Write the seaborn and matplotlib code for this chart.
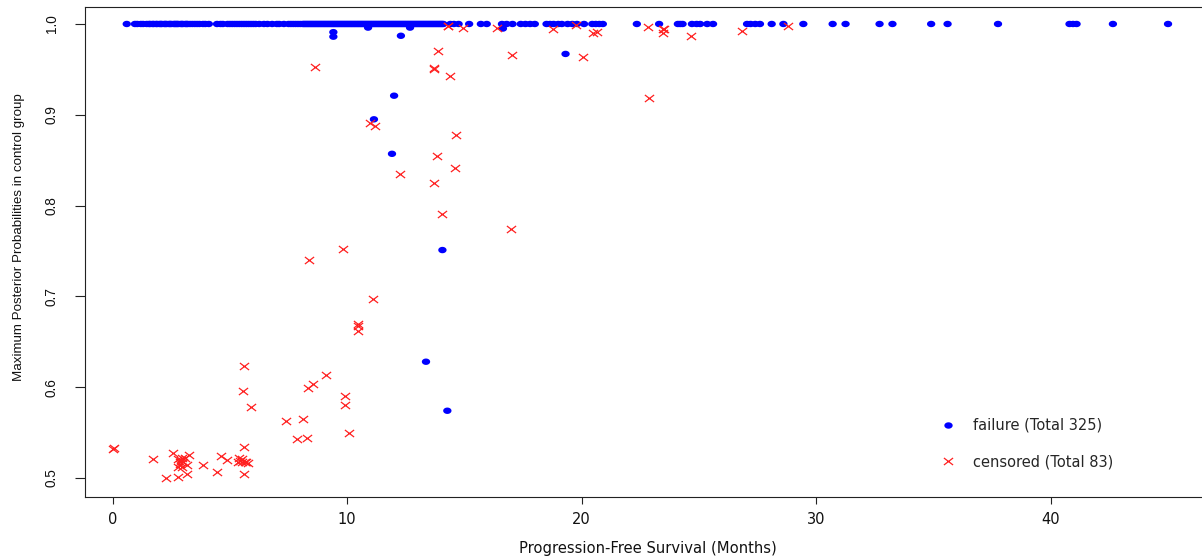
import matplotlib
matplotlib.use("Agg")
import matplotlib.pyplot as plt
import numpy as np
import pandas as pd
import seaborn as sns
from matplotlib.path import Path
from matplotlib.lines import Line2D

# failures whose max posterior probability is (essentially) 1.0 -- PFS in months
fail_top_months = [
    0.6, 0.95, 1.05, 1.2, 1.3, 1.45, 1.55, 1.6, 1.7, 1.75, 1.85, 1.9, 2.0, 2.05,
    2.1, 2.2, 2.25, 2.3, 2.4, 2.45, 2.5, 2.6, 2.65, 2.7, 2.75, 2.8, 2.9, 2.95,
    3.0, 3.1, 3.15, 3.2, 3.3, 3.4, 3.5, 3.6, 3.7, 3.85, 3.95, 4.1,
    4.45, 4.6, 4.7, 4.9, 5.0, 5.1, 5.2, 5.3, 5.4, 5.5, 5.6, 5.7, 5.8, 5.9,
    6.0, 6.1, 6.25, 6.45, 6.6, 6.8, 7.0, 7.1, 7.3, 7.5, 7.6, 7.7, 7.8, 7.9, 8.0,
    8.10, 8.15, 8.20, 8.25, 8.30, 8.35, 8.40, 8.45, 8.50, 8.55, 8.60, 8.65,
    8.70, 8.75, 8.80, 8.85, 8.90, 8.95, 9.00, 9.05, 9.10, 9.15, 9.20, 9.25,
    9.30, 9.35, 9.40, 9.45, 9.50, 9.55, 9.60, 9.65, 9.70, 9.75, 9.80, 9.85,
    9.90, 9.95, 10.00, 10.05, 10.10, 10.15, 10.20, 10.25, 10.30, 10.35, 10.40,
    10.45, 10.50, 10.55, 10.60, 10.65, 10.70, 10.75, 10.80, 10.85, 10.90,
    10.95, 11.00, 11.05, 11.10, 11.15, 11.20, 11.25, 11.30, 11.35, 11.40,
    11.45, 11.50, 11.55, 11.60, 11.65, 11.70, 11.75, 11.80, 11.85, 11.90,
    11.95, 12.00, 12.05, 12.10, 12.15, 12.20, 12.25, 12.30, 12.35, 12.40,
    12.45, 12.50, 12.55, 12.60, 12.65, 12.70, 12.75, 12.80, 12.85, 12.90,
    12.95, 13.00, 13.05, 13.10, 13.15, 13.20, 13.25, 13.30, 13.35, 13.40,
    13.45, 13.50, 13.55, 13.60, 13.65, 13.70, 13.75, 13.80, 13.85, 13.90,
    13.95, 14.00, 14.05, 14.10,
    14.4, 14.55, 14.75, 15.2, 15.7, 15.95, 16.6, 16.8, 17.05, 17.4, 17.6, 17.8,
    18.0, 18.5, 18.65, 18.8, 19.0, 19.15, 19.4, 19.6, 19.8, 20.1, 20.45, 20.6,
    20.75, 20.9,
    22.35, 23.3, 24.1, 24.2, 24.3, 24.7, 24.9, 25.05, 25.35, 25.6, 27.05, 27.2,
    27.4, 27.6, 28.1, 28.6, 29.45, 30.7, 31.25, 32.7, 33.25, 34.9, 35.6, 37.75,
    40.8, 40.95, 41.1, 42.65, 45.0,
]

# failures with a visibly lower probability
fail_low_months = [9.41, 9.41, 12.29, 12.68, 16.64, 10.89, 12.0, 11.14, 11.91,
                   19.31, 14.06, 13.36, 14.27]
fail_low_prob = [0.991, 0.986, 0.987, 0.996, 0.995, 0.996, 0.921, 0.895, 0.857,
                 0.967, 0.751, 0.628, 0.574]

# censored patients
cens_months = [
    14.31, 14.92, 16.37, 18.78, 19.76, 20.48, 20.65, 22.83, 23.48, 23.48, 24.65,
    26.84, 28.80, 13.86, 17.01, 20.07, 8.63, 13.71, 14.38, 22.88, 10.97, 11.19,
    14.63, 13.84, 14.60, 12.24, 13.71, 14.06, 17.00, 9.81, 8.38, 11.11, 10.47,
    10.47, 5.60, 9.08, 8.55, 8.33, 5.57, 9.92, 9.92, 5.90, 7.37, 8.13, 10.08,
    7.85, 8.27, 5.61, 0.03, 0.05, 1.71, 2.58, 2.80, 2.94, 3.08, 3.27, 2.87, 3.16,
    2.94, 2.80, 3.86, 4.61, 4.89, 4.43, 2.27, 2.77, 3.18, 5.40, 5.50, 5.36, 5.64,
    5.78, 5.60, 2.90, 3.00, 2.85, 5.50, 5.45, 5.70, 14.30, 23.50, 10.47, 13.70,
]
cens_prob = [
    0.998, 0.996, 0.996, 0.994, 0.999, 0.990, 0.991, 0.997, 0.995, 0.990, 0.987,
    0.992, 0.998, 0.970, 0.966, 0.964, 0.953, 0.950, 0.943, 0.918, 0.891, 0.888,
    0.878, 0.855, 0.841, 0.835, 0.825, 0.791, 0.774, 0.752, 0.740, 0.697, 0.669,
    0.662, 0.623, 0.613, 0.604, 0.599, 0.596, 0.590, 0.580, 0.578, 0.563, 0.565,
    0.549, 0.543, 0.544, 0.534, 0.532, 0.533, 0.521, 0.527, 0.521, 0.522, 0.522,
    0.525, 0.518, 0.514, 0.512, 0.512, 0.514, 0.524, 0.520, 0.507, 0.500, 0.501,
    0.504, 0.522, 0.518, 0.517, 0.517, 0.516, 0.504, 0.520, 0.517, 0.515, 0.521,
    0.519, 0.518, 0.998, 0.994, 0.667, 0.951,
]

fail_df = pd.DataFrame({
    "months": fail_top_months + fail_low_months,
    "prob": [1.0] * len(fail_top_months) + fail_low_prob,
})
cens_df = pd.DataFrame({"months": cens_months, "prob": cens_prob})

# the reference is stretched sideways, so markers are a bit wider than tall
t = np.linspace(0, 2 * np.pi, 40)
dot_marker = Path(np.column_stack([1.3 * np.cos(t), np.sin(t)]), closed=True)
cross_marker = Path([(-1.3, -1), (1.3, 1), (-1.3, 1), (1.3, -1)],
                    [Path.MOVETO, Path.LINETO, Path.MOVETO, Path.LINETO])

sns.set_style("ticks")
plt.rcParams["font.family"] = ["DejaVu Sans"]

fig = plt.figure(figsize=(12.02, 5.6), dpi=100)
ax = fig.add_axes([85 / 1202, 63 / 560, 1125 / 1202, 490 / 560])

sns.scatterplot(data=fail_df, x="months", y="prob", ax=ax, marker=dot_marker,
                s=36, color="#0000ff", edgecolor="none", linewidth=0)
sns.scatterplot(data=cens_df, x="months", y="prob", ax=ax, marker=cross_marker,
                s=44, color="#ff2020", edgecolor="#ff2020", linewidth=0.9)

ax.set_xlim(-1.18, 46.79)
ax.set_ylim(0.479, 1.0187)
ax.set_xticks([0, 10, 20, 30, 40])
ax.set_xticklabels(["0", "10", "20", "30", "40"])
ax.set_yticks([0.5, 0.6, 0.7, 0.8, 0.9, 1.0])
ax.set_yticklabels(["0.5", "0.6", "0.7", "0.8", "0.9", "1.0"])

for side in ["left", "bottom", "top"]:
    ax.spines[side].set_color("#222222")
    ax.spines[side].set_linewidth(0.8)
ax.spines["right"].set_visible(False)

ax.tick_params(axis="x", length=5, width=0.8, color="#222222", pad=6,
               labelsize=10.5, labelcolor="#111111")
ax.tick_params(axis="y", length=7, width=0.8, color="#222222", pad=12,
               labelsize=9.8, labelcolor="#111111")
for lab in ax.get_yticklabels():
    lab.set_rotation(90)
    lab.set_va("center")
    lab.set_family(["Liberation Sans", "DejaVu Sans"])

ax.set_xlabel("Progression-Free Survival (Months)", fontsize=10.6, color="#111111")
ax.xaxis.set_label_coords((648 - 85) / 1125, -0.09)
ax.set_ylabel("Maximum Posterior Probabilities in control group", fontsize=9.6,
              color="#111111", family=["Liberation Sans", "DejaVu Sans"])
ax.yaxis.set_label_coords((25 - 85) / 1125, 0.53)

handles = [
    Line2D([], [], linestyle="none", marker=dot_marker, markersize=6,
           markerfacecolor="#0000ff", markeredgecolor="none"),
    Line2D([], [], linestyle="none", marker=cross_marker, markersize=6.6,
           markeredgecolor="#ff2020", markeredgewidth=0.9, fillstyle="none"),
]
ax.legend(handles, ["failure (Total 325)", "censored (Total 83)"],
          loc="center left", bbox_to_anchor=(941 / 1202, 1 - 443.5 / 560),
          bbox_transform=fig.transFigure, frameon=False, borderpad=0,
          borderaxespad=0, handlelength=1.0, handletextpad=1.2,
          labelspacing=1.45, fontsize=10.5)

fig.savefig("out.png", dpi=100)
